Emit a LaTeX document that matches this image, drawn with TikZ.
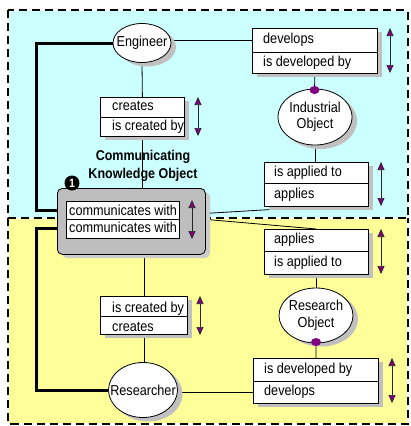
\documentclass[tikz,border=0pt]{standalone}
\usepackage{fontspec}
\setmainfont{Liberation Sans}[FakeStretch=0.88]
\usetikzlibrary{arrows.meta,shapes.geometric}
\definecolor{cyanbg}{RGB}{204,255,255}
\definecolor{yellowbg}{RGB}{255,255,153}
\definecolor{shadowgray}{RGB}{192,192,192}
\definecolor{boxgray}{RGB}{190,190,190}
\definecolor{boxshadow}{RGB}{204,204,204}
\definecolor{dotpurple}{RGB}{128,0,128}
\pgfdeclarelayer{back}
\pgfdeclarelayer{bg}
\pgfsetlayers{back,bg,main}
\tikzset{
  row/.style={draw=black, line width=0.8pt, fill=white, anchor=north west, inner sep=0pt},
  rowtext/.style={anchor=west, inner sep=0pt, text height=10pt, text depth=3pt},
  ent/.style={ellipse, draw=black, line width=0.8pt, fill=white, inner sep=0pt},
  enttext/.style={align=center, inner sep=0pt, font=\fontsize{14.4}{16.5}\selectfont},
  conn/.style={line width=0.8pt, draw=black},
  thickconn/.style={line width=3pt, draw=black},
  biarrow/.style={{Triangle[width=7pt,length=8pt,fill=dotpurple]}-{Triangle[width=7pt,length=8pt,fill=dotpurple]}, line width=0.7pt, draw=black!85},
  pdot/.style={ellipse, fill=dotpurple, minimum width=10pt, minimum height=8pt, inner sep=0pt},
  border/.style={line width=2pt, draw=black, dash pattern=on 8pt off 5pt},
  borderbase/.style={line width=2pt, draw=white},
}
\begin{document}
\begin{tikzpicture}[x=1pt,y=-1pt, font=\fontsize{14.4}{16}\selectfont]
\useasboundingbox (0,0) rectangle (410,426);
% backgrounds
\begin{pgfonlayer}{back}
\fill[cyanbg] (8,10) rectangle (407.5,218);
\fill[yellowbg] (8,218) rectangle (407.5,423.5);
\draw[borderbase] (8,10) rectangle (407.5,423.5);
\draw[borderbase] (8,218) -- (407.5,218);
\draw[border] (8,10) rectangle (407.5,218);
\draw[border] (8,218) -- (8,423.5) -- (407.5,423.5) -- (407.5,218);
\end{pgfonlayer}

% shadows
\fill[shadowgray] (147,47) ellipse [x radius=29pt, y radius=19.5pt];
\fill[shadowgray] (148,394) ellipse [x radius=34.5pt, y radius=27.5pt];
\fill[shadowgray] (320,121) ellipse [x radius=37pt, y radius=28pt];
\fill[shadowgray] (321,319) ellipse [x radius=37pt, y radius=27.5pt];
\fill[shadowgray] (105,101) rectangle (189,140);
\fill[shadowgray] (257,32) rectangle (382,77);
\fill[shadowgray] (269,166) rectangle (373,210);
\fill[shadowgray] (269,233) rectangle (373,278);
\fill[shadowgray] (105,300) rectangle (192,338);
\fill[shadowgray] (258,362) rectangle (383,407);
\fill[boxshadow, rounded corners=5pt] (62,192) rectangle (210,258);

% entities
\node[ent, minimum width=58pt, minimum height=39pt] (Engineer) at (142,43) {};
\node[enttext] (EngineerT) at (Engineer.center) {Engineer};
\node[ent, minimum width=69pt, minimum height=55pt] (Researcher) at (143,390) {};
\node[enttext] (ResearcherT) at (Researcher.center) {Researcher};
\node[ent, minimum width=74pt, minimum height=56pt] (Industrial) at (315,117) {};
\node[enttext] (IndustrialT) at (Industrial.center) {Industrial\\Object};
\node[ent, minimum width=74pt, minimum height=55pt] (ResObj) at (316,315.5) {};
\node[enttext] (ResObjT) at (ResObj.center) {Research\\Object};
\node[pdot] (IOdot) at (314.5,90) {};
\node[pdot] (ROdot) at (316,342) {};

% communicating knowledge object
\node[draw=black, line width=0.8pt, fill=boxgray, rounded corners=5pt, anchor=north west,
      minimum width=148pt, minimum height=66pt, inner sep=0pt] (Comm) at (57,188) {};
\node[row, minimum width=113pt, minimum height=18pt] (CW1) at (66,201) {};
\node[row, minimum width=113pt, minimum height=19pt] (CW2) at (66,219) {};
\node[rowtext] (CW1t) at ([xshift=3pt,yshift=-2pt]CW1.west) {communicates with};
\node[rowtext] (CW2t) at ([xshift=3pt]CW2.west) {communicates with};
\node[align=center, inner sep=0pt, font=\bfseries\fontsize{14.2}{18}\selectfont] (CKO) at (143,166) {Communicating\\Knowledge Object};
\node[circle, fill=black, minimum size=15pt, inner sep=0pt, text=white, font=\bfseries\fontsize{12}{12}\selectfont] (Num) at (72,183) {1};

% relation boxes
\node[row, minimum width=84pt, minimum height=20pt] (A1) at (100,97) {};
\node[row, minimum width=84pt, minimum height=19pt] (A2) at (100,117) {};
\node[rowtext] (A1t) at ([xshift=12pt]A1.west) {creates};
\node[rowtext] (A2t) at ([xshift=12pt]A2.west) {is created by};

\node[row, minimum width=125pt, minimum height=24pt] (B1) at (252,28) {};
\node[row, minimum width=125pt, minimum height=21pt] (B2) at (252,52) {};
\node[rowtext] (B1t) at ([xshift=11pt]B1.west) {develops};
\node[rowtext] (B2t) at ([xshift=11pt]B2.west) {is developed by};

\node[row, minimum width=104pt, minimum height=21pt] (C1) at (264,162) {};
\node[row, minimum width=104pt, minimum height=23pt] (C2) at (264,183) {};
\node[rowtext] (C1t) at ([xshift=10pt]C1.west) {is applied to};
\node[rowtext] (C2t) at ([xshift=10pt]C2.west) {applies};

\node[row, minimum width=104pt, minimum height=22pt] (D1) at (264,229) {};
\node[row, minimum width=104pt, minimum height=23pt] (D2) at (264,251) {};
\node[rowtext] (D1t) at ([xshift=10pt]D1.west) {applies};
\node[rowtext] (D2t) at ([xshift=10pt]D2.west) {is applied to};

\node[row, minimum width=87pt, minimum height=20pt] (E1) at (100,296) {};
\node[row, minimum width=87pt, minimum height=18pt] (E2) at (100,316) {};
\node[rowtext] (E1t) at ([xshift=12pt,yshift=-3pt]E1.west) {is created by};
\node[rowtext] (E2t) at ([xshift=12pt,yshift=-3pt]E2.west) {creates};

\node[row, minimum width=125pt, minimum height=23pt] (F1) at (253,358) {};
\node[row, minimum width=125pt, minimum height=22pt] (F2) at (253,381) {};
\node[rowtext] (F1t) at ([xshift=11pt]F1.west) {is developed by};
\node[rowtext] (F2t) at ([xshift=11pt]F2.west) {develops};

% double arrows
\coordinate (aA1) at (198,97);  \coordinate (aA2) at (198,136);
\coordinate (aB1) at (390,28);  \coordinate (aB2) at (390,73);
\coordinate (aC1) at (381,162); \coordinate (aC2) at (381,206);
\coordinate (aD1) at (381,229); \coordinate (aD2) at (381,274);
\coordinate (aE1) at (200,296); \coordinate (aE2) at (200,335);
\coordinate (aF1) at (392,358); \coordinate (aF2) at (392,403);
\coordinate (aG1) at (192,200); \coordinate (aG2) at (192,239);
\draw[biarrow] (aA1) -- (aA2);
\draw[biarrow] (aB1) -- (aB2);
\draw[biarrow] (aC1) -- (aC2);
\draw[biarrow] (aD1) -- (aD2);
\draw[biarrow] (aE1) -- (aE2);
\draw[biarrow] (aF1) -- (aF2);
\draw[biarrow] (aG1) -- (aG2);

% connectors
\coordinate (tlA) at (36,100);
\coordinate (tlB) at (36,300);
\begin{pgfonlayer}{bg}
\draw[thickconn] (Engineer.west) -| (tlA) |- (CW1.west);
\draw[thickconn] (CW2.west) -| (tlB) |- (Researcher.west);
\draw[conn] (Engineer.east |- B1.west) -- (B1.west);
\draw[conn] (Engineer.south) -- (A1.north);
\draw[conn] (A2.south) -- (A2.south |- Comm.north);
\draw[conn] (E1.north |- Comm.south) -- (E1.north);
\draw[conn] (E2.south) -- (E2.south |- Researcher.north);
\draw[conn] (Researcher.east |- F2.west) -- (F2.west);
\draw[conn] (B2.south) -- (IOdot);
\draw[conn] (Industrial.south) -- (Industrial.south |- C1.north);
\draw[conn] ([yshift=8pt]Comm.east) -- (C2.south);
\draw[conn] ([yshift=2pt]Comm.east) -- (D1.north);
\draw[conn] (D2.south) -- (D2.south |- ResObj.north);
\draw[conn] (ROdot) -- (F1.north);
\end{pgfonlayer}
\end{tikzpicture}
\end{document}
